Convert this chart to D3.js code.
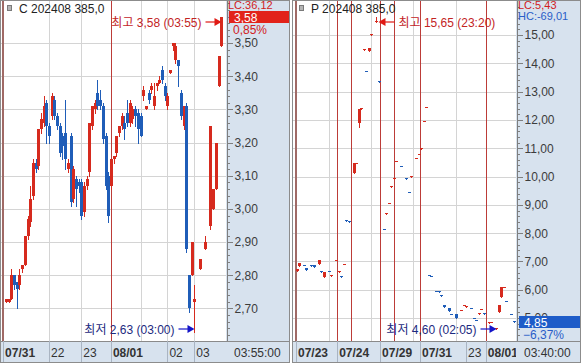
<!DOCTYPE html>
<meta charset="utf-8">
<style>
  body { margin: 0; background: #fff; }
  svg { display: block; font-family: "Liberation Sans", "Noto Sans CJK KR", sans-serif; font-size: 12px; }
  .grid { stroke: #d4d4d4; shape-rendering: crispEdges; }
  .day { stroke: #bc3c38; shape-rendering: crispEdges; }
  .sep { stroke: #a9b4c2; shape-rendering: crispEdges; }
  .axis path, .axis line { stroke: #7f7f7f; shape-rendering: crispEdges; }
  .axis text { fill: #3c3c3c; font-size: 12px; font-family: "Liberation Sans", sans-serif; }
  .up { fill: #d62a1e; stroke: #d62a1e; }
  .down { fill: #1f5db8; stroke: #1f5db8; }
  .tlab { fill: #333; font-size: 12px; }
  .small { font-size: 11px; }
</style>
<body>
<script src="https://cdn.jsdelivr.net/npm/d3@7/dist/d3.min.js"></script>
<script>

// C 202408 385.0 (5 min bars, null = no trade)
var callOpen = [2.72,2.72,2.73,2.80,2.78,2.77,2.82,2.83,2.92,2.96,
  3.04,3.14,3.13,3.24,3.26,3.32,3.25,3.28,3.33,3.28,
  3.25,3.22,3.23,3.12,3.22,3.03,3.09,3.08,3.08,2.99,
  3.07,3.11,3.25,3.30,3.35,3.33,3.31,3.22,3.10,3.07,
  3.15,3.17,3.23,3.25,3.26,3.29,3.26,3.27,3.30,3.29,
  3.28,3.34,3.30,3.35,3.36,3.31,3.37,3.38,3.42,3.37,
  3.31,3.41,3.49,3.45,3.45,3.35,3.25,3.31,2.80,2.80,
  2.72,null,2.82,null,2.88,null,2.95,3.00,3.06,3.37,
  3.49];
var callHigh = [2.73,2.73,2.82,2.80,2.78,2.82,2.83,2.92,2.98,3.07,
  3.15,3.15,3.24,3.29,3.34,3.33,3.26,3.35,3.34,3.29,
  3.26,3.23,3.33,3.15,3.23,3.13,3.10,3.09,3.09,3.08,
  3.10,3.26,3.31,3.33,3.39,3.36,3.32,3.23,3.11,3.15,
  3.16,3.22,3.25,3.29,3.28,3.33,3.33,3.31,3.31,3.30,
  3.29,3.37,3.31,3.36,3.38,3.38,3.38,3.40,3.43,3.38,
  3.35,3.42,3.50,3.50,3.45,3.36,3.31,3.32,2.80,2.90,
  2.77,null,2.85,null,2.92,null,3.25,3.06,3.20,3.46,
  3.58];
var callLow = [2.72,2.72,2.73,2.76,2.70,2.76,2.81,2.83,2.91,2.95,
  3.03,3.11,3.12,3.23,3.25,3.20,3.20,3.27,3.27,3.24,
  3.16,3.15,3.12,3.11,3.01,3.02,3.01,3.05,2.97,2.98,
  3.06,3.10,3.24,3.29,3.30,3.30,3.20,3.06,2.96,3.06,
  3.14,3.16,3.22,3.24,3.21,3.25,3.25,3.26,3.25,3.20,
  3.22,3.33,3.30,3.32,3.35,3.30,3.36,3.38,3.38,3.33,
  3.30,3.41,3.48,3.44,3.37,3.27,3.24,2.87,2.69,2.80,
  2.63,null,2.82,null,2.88,null,2.94,3.00,3.06,3.37,
  3.49];
var callClose = [2.73,2.73,2.80,2.77,2.76,2.80,2.83,2.92,2.97,3.03,
  3.14,3.12,3.24,3.27,3.31,3.25,3.22,3.34,3.28,3.25,
  3.17,3.19,3.15,3.14,3.02,3.12,3.06,3.07,2.98,3.07,
  3.09,3.26,3.31,3.32,3.31,3.31,3.21,3.07,2.98,3.15,
  3.16,3.22,3.25,3.28,3.24,3.26,3.32,3.30,3.28,3.24,
  3.22,3.36,3.31,3.33,3.37,3.34,3.38,3.39,3.39,3.34,
  3.34,3.42,3.50,3.49,3.43,3.28,3.31,2.88,2.70,2.90,
  2.73,null,2.85,null,2.90,null,3.25,3.06,3.20,3.46,
  3.58];
var callPriceTicks = [2.70, 2.80, 2.90, 3.00, 3.10, 3.20, 3.30, 3.40, 3.50];
var callDayLines = [-1.1, 39];
var callHourLines = [16, 28, 50, 60, 70];
var callTimePos = [-1.1, 16, 28, 39, 60, 70];
var callTimeText = ["07/31", "22", "23", "08/01", "02", "03"];

// P 202408 385.0 (bar slot index, sparse trades)
var putSlot = [0,1,3,4,6,7,9,10,11,13,
  14,16,17,18,19,20,21,23,24,25,
  26,27,28,29,30,32,33,35,36,37,
  38,39,40,42,44,45,46,48,49,50,
  51,52,53,54,56,57,58,59,61,62,
  64,66,67,68,70,71,72,73,74,75,
  77,78,80,81,82,83,84,86,87];
var putOpen = [6.68,6.84,6.89,6.77,6.86,6.88,6.90,6.66,6.46,6.68,
  6.49,7.04,6.63,6.50,6.90,8.45,8.43,10.12,10.47,11.90,
  12.40,14.49,13.74,14.45,15.02,15.45,13.38,8.16,8.68,9.05,
  9.62,9.92,10.54,10.38,9.95,9.46,9.99,10.64,10.79,10.99,
  11.95,12.45,6.53,6.50,5.96,5.95,5.80,5.45,5.35,5.15,
  5.14,5.27,5.45,5.39,5.36,5.01,4.94,5.16,5.31,5.18,
  4.84,4.85,4.62,5.20,5.74,6.09,5.61,5.15,4.88];
var putHigh = [6.72,6.93,6.89,6.77,6.86,6.88,7.05,6.66,6.63,6.68,
  6.52,7.06,6.67,6.50,6.92,8.45,8.43,10.47,10.49,12.40,
  12.42,14.51,13.74,14.55,15.04,15.65,13.38,8.16,8.72,9.08,
  9.65,9.95,10.56,10.38,9.95,9.46,10.01,10.66,10.81,11.01,
  11.97,12.47,6.53,6.50,5.96,5.95,5.80,5.45,5.35,5.15,
  5.14,5.29,5.47,5.41,5.36,5.01,4.94,5.18,5.33,5.18,
  4.86,4.87,4.65,5.46,6.10,6.11,5.61,5.15,4.88];
var putLow = [6.68,6.84,6.87,6.70,6.84,6.81,6.90,6.64,6.46,6.66,
  6.49,7.04,6.63,6.46,6.90,8.43,8.41,10.12,10.47,11.75,
  12.40,14.49,13.72,14.45,15.02,15.45,13.36,8.14,8.68,9.05,
  9.62,9.92,10.54,10.36,9.93,9.44,9.99,10.64,10.79,10.99,
  11.95,12.45,6.51,6.48,5.94,5.92,5.78,5.38,5.25,5.13,
  5.00,5.27,5.45,5.39,5.34,4.99,4.92,5.16,5.31,5.16,
  4.84,4.85,4.60,5.20,5.74,6.09,5.59,5.13,4.85];
var putClose = [6.72,6.93,6.87,6.70,6.84,6.81,7.05,6.64,6.63,6.66,
  6.52,7.06,6.67,6.46,6.92,8.43,8.41,10.47,10.49,12.40,
  12.42,14.51,13.72,14.55,15.04,15.49,13.36,8.14,8.72,9.08,
  9.65,9.95,10.56,10.36,9.93,9.44,10.01,10.66,10.81,11.01,
  11.97,12.47,6.51,6.48,5.94,5.92,5.78,5.38,5.25,5.13,
  5.00,5.29,5.47,5.41,5.34,4.99,4.92,5.18,5.33,5.16,
  4.86,4.87,4.64,5.46,6.10,6.11,5.59,5.13,4.85];
var putPriceTicks = [5, 6, 7, 8, 9, 10, 11, 12, 13, 14, 15];
var putDayLines = [-0.2, 16.3, 21.9, 33.5, 39.1, 49.5, 75.9];
var putHourLines = [13.0, 29.9, 46.7, 63.9];
var putTimePos = [-0.2, 16.3, 33.5, 49.5, 68.0, 75.9];
var putTimeText = ["07/23", "07/24", "07/29", "07/31", "23", "08/01"];

var width = 581, height = 363, plotBottom = 341;
var axisBg = "#d7e2ee";
var redTxt = "#d2201c", blueTxt = "#2a5ec8";

var fmt = function(v) { return d3.format(".2f")(v).replace(".", ","); };

var svg = d3.select("body").append("svg")
    .attr("width", width)
    .attr("height", height);

function drawPanel(p) {

  var g = svg.append("g");

  var x = d3.scaleLinear().domain(p.slotDomain).range(p.xRange);
  var y = d3.scaleLinear().domain(p.priceDomain).range([plotBottom, 0]);

  g.append("clipPath").attr("id", "clip-" + p.name)
    .append("rect")
    .attr("x", p.left).attr("y", 0)
    .attr("width", p.right - p.left).attr("height", height);

  // backgrounds
  g.append("rect").attr("x", p.right).attr("y", 0)
    .attr("width", p.axisRight - p.right).attr("height", height)
    .attr("fill", axisBg);
  g.append("rect").attr("x", p.left).attr("y", plotBottom)
    .attr("width", p.right - p.left).attr("height", height - plotBottom)
    .attr("fill", axisBg);

  var plot = g.append("g").attr("clip-path", "url(#clip-" + p.name + ")");

  // grid
  plot.selectAll(".hgrid").data(p.priceTicks).join("line")
    .attr("class", "grid hgrid")
    .attr("x1", p.left).attr("x2", p.right)
    .attr("y1", function(d) { return Math.round(y(d)) + 0.5; })
    .attr("y2", function(d) { return Math.round(y(d)) + 0.5; });

  plot.selectAll(".vgrid").data(p.hourLines).join("line")
    .attr("class", "grid vgrid")
    .attr("x1", function(d) { return Math.round(x(d)) + 0.5; })
    .attr("x2", function(d) { return Math.round(x(d)) + 0.5; })
    .attr("y1", 0).attr("y2", plotBottom);

  plot.selectAll(".day").data(p.dayLines).join("line")
    .attr("class", "day")
    .style("stroke", function(d, i) { return i == 0 ? "#a06a66" : null; })
    .attr("stroke-width", function(d, i) { return i == 0 ? 2 : 1; })
    .attr("x1", function(d, i) { return Math.round(x(d)) + (i == 0 ? 0 : 0.5); })
    .attr("x2", function(d, i) { return Math.round(x(d)) + (i == 0 ? 0 : 0.5); })
    .attr("y1", 0).attr("y2", plotBottom);

  // candles
  var bars = p.open.map(function(o, i) {
    return { s: p.slot ? p.slot[i] : i, o: o, h: p.high[i], l: p.low[i], c: p.close[i] };
  }).filter(function(d) { return d.o != null; });

  var candle = plot.selectAll(".bar").data(bars).join("g")
    .attr("class", function(d) { return d.c >= d.o ? "bar up" : "bar down"; });

  candle.append("line")
    .attr("stroke-width", 1)
    .attr("shape-rendering", "crispEdges")
    .attr("x1", function(d) { return Math.round(x(d.s)) + 0.5; })
    .attr("x2", function(d) { return Math.round(x(d.s)) + 0.5; })
    .attr("y1", function(d) { return Math.round(y(d.h)); })
    .attr("y2", function(d) { return Math.round(y(d.l)) + 1; });

  candle.append("rect")
    .attr("stroke", "none")
    .attr("shape-rendering", "crispEdges")
    .attr("x", function(d) { return Math.round(x(d.s)) - 1; })
    .attr("width", 3)
    .attr("y", function(d) { return Math.round(y(Math.max(d.o, d.c))); })
    .attr("height", function(d) {
      return Math.max(1, Math.round(y(Math.min(d.o, d.c))) - Math.round(y(Math.max(d.o, d.c))));
    });

  // price axis
  g.append("g").attr("class", "axis")
    .attr("transform", "translate(" + (p.right + 0.5) + ",0)")
    .call(d3.axisRight(y).tickValues(p.minorTicks).tickSize(3).tickSizeOuter(0).tickFormat(""));
  g.append("g").attr("class", "axis")
    .attr("transform", "translate(" + (p.right + 0.5) + ",0)")
    .call(d3.axisRight(y).tickValues(p.priceTicks).tickSize(6).tickSizeOuter(0)
      .tickPadding(2).tickFormat(fmt));

  // date row
  g.append("line").attr("class", "sep")
    .attr("x1", p.left).attr("x2", p.axisRight)
    .attr("y1", plotBottom + 0.5).attr("y2", plotBottom + 0.5)
    .style("stroke", "#8a8a8a");

  var tg = g.append("g").attr("clip-path", "url(#clip-" + p.name + ")");
  tg.selectAll(".tsep").data(p.timePos).join("line")
    .attr("class", "sep tsep")
    .attr("x1", function(d) { return Math.round(x(d)) + 0.5; })
    .attr("x2", function(d) { return Math.round(x(d)) + 0.5; })
    .attr("y1", plotBottom).attr("y2", height);
  tg.selectAll(".tlab").data(p.timePos).join("text")
    .attr("class", "tlab")
    .attr("x", function(d) { return x(d) + 2; })
    .attr("y", 357)
    .attr("font-weight", function(d, i) { return p.timeText[i].indexOf("/") >= 0 ? "bold" : null; })
    .text(function(d, i) { return p.timeText[i]; });

  g.append("text").attr("class", "tlab")
    .attr("x", p.right + 8).attr("y", 357)
    .text(p.lastTime);

  // title
  g.append("rect")
    .attr("x", p.left + 7.5).attr("y", 5.5)
    .attr("width", 4).attr("height", 5)
    .attr("fill", "#b5b5b5").attr("stroke", "#7a7a7a");
  g.append("text")
    .attr("x", p.left + 19).attr("y", 13)
    .attr("fill", "#222")
    .text(p.title);

  // LC / HC
  g.append("text").attr("class", "small").attr("x", p.right + 2).attr("y", 9)
    .attr("fill", redTxt).text("LC:" + p.lc);
  g.append("text").attr("class", "small").attr("x", p.right + 2).attr("y", 20)
    .attr("fill", blueTxt).text("HC:" + p.hc);

  // last price box
  var last = bars[bars.length - 1];
  var ly = Math.round(y(last.c));
  var col = p.change >= 0 ? "#e2231a" : "#1e5cc8";
  g.append("rect")
    .attr("x", p.right + 3).attr("y", ly - 6)
    .attr("width", p.axisRight - p.right - 3).attr("height", 12)
    .attr("fill", col);
  g.append("text")
    .attr("x", p.right + 8).attr("y", ly + 5)
    .attr("fill", "#fff")
    .text(fmt(last.c));
  g.append("text")
    .attr("x", p.right + 7).attr("y", ly + 17)
    .attr("fill", p.change >= 0 ? redTxt : blueTxt)
    .text(fmt(p.change) + "%");

  // high / low markers
  var hi = bars.reduce(function(a, b) { return b.h > a.h ? b : a; });
  var lo = bars.reduce(function(a, b) { return b.l < a.l ? b : a; });
  var mid = (p.left + p.right) / 2;

  function marker(bar, value, label, by, txtCol, arrCol) {
    var bx = Math.round(x(bar.s)) + 0.5;
    var dir = bx > mid ? -1 : 1;
    var tip = bx + (dir < 0 ? 0 : 2);
    g.append("line")
      .attr("x1", tip + dir * 4).attr("x2", tip + dir * 16)
      .attr("y1", by).attr("y2", by)
      .attr("stroke", arrCol).attr("stroke-width", 1.2);
    g.append("path")
      .attr("d", "M" + tip + "," + by + "L" + (tip + dir * 7) + "," + (by - 4) +
                 "L" + (tip + dir * 7) + "," + (by + 4) + "Z")
      .attr("fill", arrCol);
    g.append("text")
      .attr("x", tip + dir * 20).attr("y", by + 5)
      .attr("text-anchor", dir < 0 ? "end" : "start")
      .attr("fill", txtCol)
      .text(label + " " + fmt(value) + " (" + (label == "최고" ? p.hiTime : p.loTime) + ")");
  }

  marker(hi, hi.h, "최고", Math.max(Math.round(y(hi.h)), 22), "#c3241f", "#e01a14");
  marker(lo, lo.l, "최저", Math.min(Math.round(y(lo.l)), 329), "#1c2a80", "#1414c8");

  // panel frame
  g.append("rect")
    .attr("x", p.left + 0.5).attr("y", 0.5)
    .attr("width", p.axisRight - p.left - 1).attr("height", height - 1)
    .attr("fill", "none").attr("stroke", "#8c8c8c");
}

drawPanel({
  name: "call", title: "C 202408 385,0",
  left: 0, right: 226, axisRight: 290,
  slotDomain: [0, 80], xRange: [6, 221.2],
  priceDomain: [2.602, 3.630],
  open: callOpen, high: callHigh, low: callLow, close: callClose,
  priceTicks: callPriceTicks, minorTicks: d3.range(2.62, 3.63, 0.02),
  dayLines: callDayLines, hourLines: callHourLines,
  timePos: callTimePos, timeText: callTimeText, lastTime: "03:55:00",
  lc: "36,12", hc: "", change: 0.85, hiTime: "03:55", loTime: "03:00"
});

drawPanel({
  name: "put", title: "P 202408 385,0",
  left: 292, right: 516, axisRight: 581,
  slot: putSlot, slotDomain: [0, 87], xRange: [296.5, 513.5],
  priceDomain: [4.19, 16.24],
  open: putOpen, high: putHigh, low: putLow, close: putClose,
  priceTicks: putPriceTicks, minorTicks: d3.range(4.2, 16.2, 0.2),
  dayLines: putDayLines, hourLines: putHourLines,
  timePos: putTimePos, timeText: putTimeText, lastTime: "03:40:00",
  lc: "5,43", hc: "-69,01", change: -6.37, hiTime: "23:20", loTime: "02:05"
});

</script>
</body>
</html>
